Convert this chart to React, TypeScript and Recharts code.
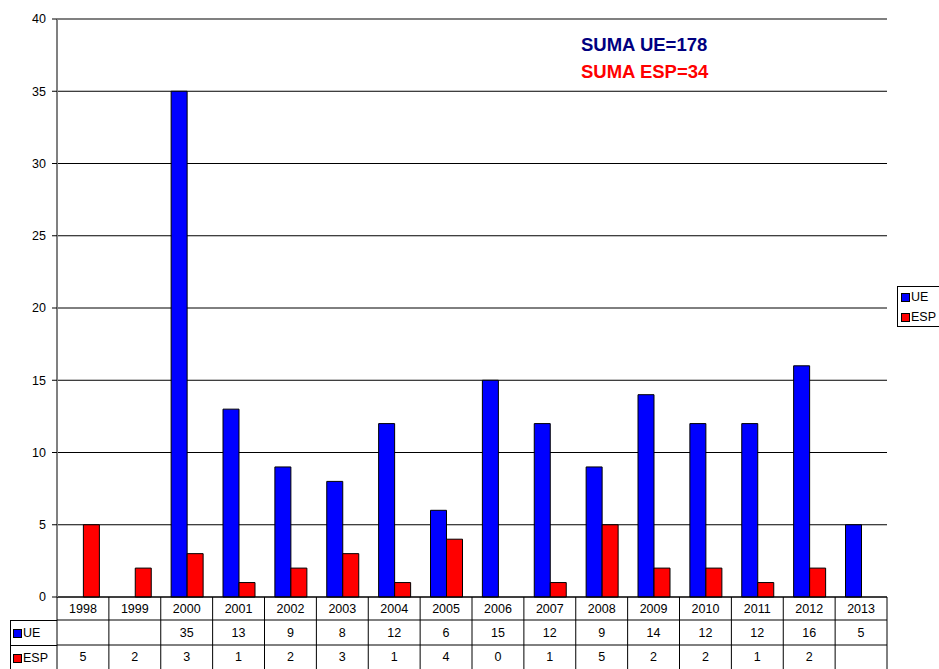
import React from 'react'
import { BarChart, Bar, XAxis, YAxis, CartesianGrid, ReferenceLine } from 'recharts'

const years = ['1998', '1999', '2000', '2001', '2002', '2003', '2004', '2005', '2006', '2007', '2008', '2009', '2010', '2011', '2012', '2013']
const ueValues: (number | null)[] = [null, null, 35, 13, 9, 8, 12, 6, 15, 12, 9, 14, 12, 12, 16, 5]
const espValues: (number | null)[] = [5, 2, 3, 1, 2, 3, 1, 4, 0, 1, 5, 2, 2, 1, 2, null]
const yTicks = [0, 5, 10, 15, 20, 25, 30, 35, 40]

const W = 939
const H = 669
const LEFT = 57
const RIGHT = 887
const TOP = 19
const BOTTOM = 597
const ROW1 = 620
const ROW2 = 645

const chartData = years.map((year, i) => ({ year, UE: ueValues[i], ESP: espValues[i] }))

const FONT = 'Liberation Sans, Arial, sans-serif'

// draws the data table cell for each category under the plot
const TableTick = (props: any) => {
  const { x, payload, index } = props
  const bw = (RIGHT - LEFT) / years.length
  const left = x - bw / 2
  const right = x + bw / 2
  const i = index ?? payload.index
  const ue = ueValues[i]
  const esp = espValues[i]
  return (
    <g fontFamily={FONT} fontSize={12.5} fill="#000">
      <line x1={right} y1={BOTTOM} x2={right} y2={H} stroke="#000" strokeWidth={1} />
      {i === 0 && <line x1={left} y1={BOTTOM} x2={left} y2={H} stroke="#000" strokeWidth={1} />}
      <line x1={left} y1={ROW1} x2={right} y2={ROW1} stroke="#000" strokeWidth={1} />
      <line x1={left} y1={ROW2} x2={right} y2={ROW2} stroke="#000" strokeWidth={1} />
      <text x={x} y={613} textAnchor="middle">{payload.value}</text>
      <text x={x} y={637} textAnchor="middle">{ue == null ? '' : ue}</text>
      <text x={x} y={661} textAnchor="middle">{esp == null ? '' : esp}</text>
    </g>
  )
}

export default function App() {
  return (
    <div style={{ position: 'absolute', left: 0, top: 0, width: W, height: H, background: '#fff', overflow: 'hidden', fontFamily: FONT }}>
      <BarChart
        width={W}
        height={H}
        data={chartData}
        margin={{ top: TOP, right: W - RIGHT, left: 0, bottom: 0 }}
        barCategoryGap="20%"
        barGap={0}
      >
        <CartesianGrid vertical={false} stroke="#000" strokeWidth={1} yAxisId="left" />
        <XAxis
          dataKey="year"
          axisLine={{ stroke: '#000' }}
          tickLine={false}
          tick={<TableTick />}
          interval={0}
          height={H - BOTTOM}
        />
        <YAxis
          yAxisId="left"
          domain={[0, 40]}
          ticks={yTicks}
          width={LEFT}
          axisLine={{ stroke: '#808080', strokeWidth: 2 }}
          tickLine={{ stroke: '#000' }}
          tickSize={5}
          tickMargin={6}
          tick={{ fill: '#000', fontSize: 12.5, fontFamily: FONT }}
        />
        <YAxis
          yAxisId="right"
          orientation="right"
          domain={[0, 40]}
          width={0}
          tick={false}
          tickLine={false}
          axisLine={{ stroke: '#a0a0a0', strokeWidth: 2 }}
        />
        <ReferenceLine yAxisId="left" y={40} stroke="#808080" strokeWidth={2} />
        <Bar yAxisId="left" dataKey="UE" fill="#0000FF" stroke="#000" strokeWidth={1} isAnimationActive={false} />
        <Bar yAxisId="left" dataKey="ESP" fill="#FF0000" stroke="#000" strokeWidth={1} isAnimationActive={false} />
      </BarChart>

      {/* table row labels */}
      <div style={{ position: 'absolute', left: 10, top: ROW1, width: LEFT - 10, height: H - ROW1, borderLeft: '1px solid #000', borderTop: '1px solid #000', boxSizing: 'border-box', fontSize: 12.5 }}>
        <div style={{ height: ROW2 - ROW1, display: 'flex', alignItems: 'center', borderBottom: '1px solid #000', boxSizing: 'border-box' }}>
          <span style={{ display: 'inline-block', width: 7, height: 7, background: '#0000FF', border: '1px solid #000', margin: '0 1px 0 2px' }} />UE
        </div>
        <div style={{ height: H - ROW2, display: 'flex', alignItems: 'center' }}>
          <span style={{ display: 'inline-block', width: 7, height: 7, background: '#FF0000', border: '1px solid #000', margin: '0 1px 0 2px' }} />ESP
        </div>
      </div>

      {/* sums */}
      <div style={{ position: 'absolute', left: 581, top: 34, fontSize: 18.5, fontWeight: 'bold', color: '#000080', lineHeight: '22px' }}>SUMA UE=178</div>
      <div style={{ position: 'absolute', left: 581, top: 61, fontSize: 18.5, fontWeight: 'bold', color: '#FF0000', lineHeight: '22px' }}>SUMA ESP=34</div>

      {/* legend */}
      <div style={{ position: 'absolute', left: 897, top: 286, width: 60, height: 41, border: '1px solid #000', boxSizing: 'border-box', fontSize: 12.5, background: '#fff' }}>
        <div style={{ display: 'flex', alignItems: 'center', height: 20, paddingLeft: 3 }}>
          <span style={{ display: 'inline-block', width: 7, height: 7, background: '#0000FF', border: '1px solid #000', marginRight: 1 }} />UE
        </div>
        <div style={{ display: 'flex', alignItems: 'center', height: 20, paddingLeft: 3 }}>
          <span style={{ display: 'inline-block', width: 7, height: 7, background: '#FF0000', border: '1px solid #000', marginRight: 1 }} />ESP
        </div>
      </div>
    </div>
  )
}
